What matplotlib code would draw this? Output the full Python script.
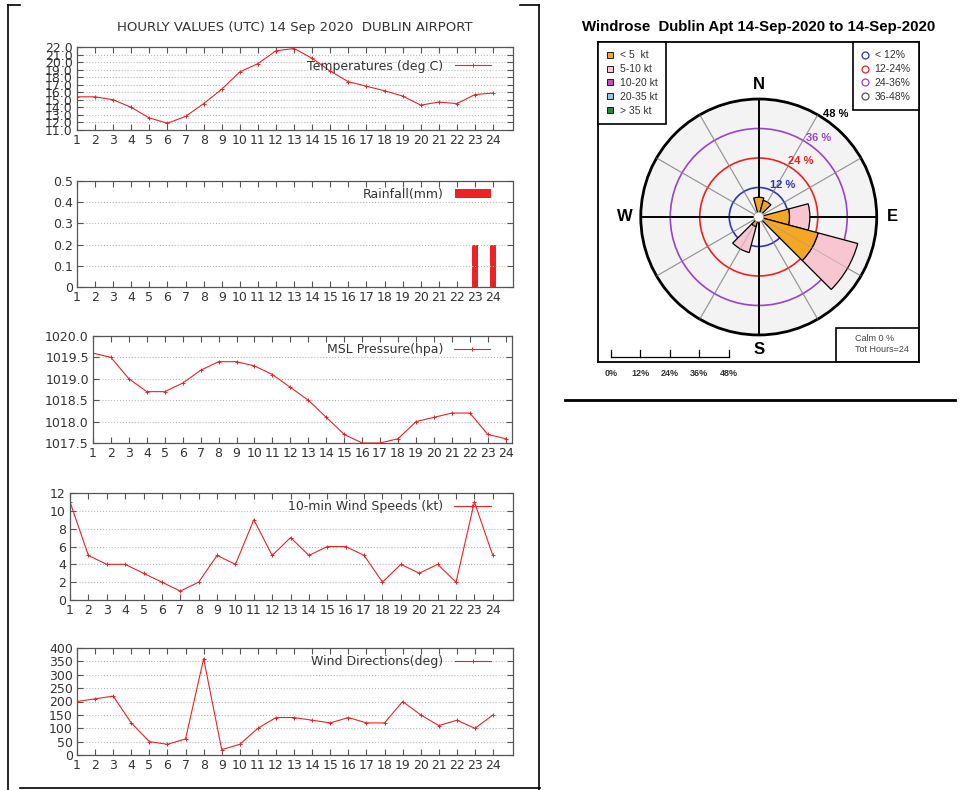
import matplotlib as mpl
mpl.use('Agg')

import numpy as np
import matplotlib.pyplot as plt
from matplotlib.lines import Line2D
from matplotlib.patches import Wedge, Circle, Rectangle

W, H = 962, 790

hours = list(range(1, 25))
temperature = [15.4, 15.4, 15.0, 14.0, 12.6, 11.9, 12.8, 14.5, 16.4, 18.7, 19.8, 21.5,
               21.8, 20.5, 18.8, 17.4, 16.8, 16.2, 15.5, 14.3, 14.7, 14.5, 15.7, 15.9]
rainfall = [0.0] * 22 + [0.2, 0.2]
pressure = [1019.6, 1019.5, 1019.0, 1018.7, 1018.7, 1018.9, 1019.2, 1019.4, 1019.4, 1019.3,
            1019.1, 1018.8, 1018.5, 1018.1, 1017.7, 1017.5, 1017.5, 1017.6, 1018.0, 1018.1,
            1018.2, 1018.2, 1017.7, 1017.6]
wind_speed = [11, 5, 4, 4, 3, 2, 1, 2, 5, 4, 9, 5, 7, 5, 6, 6, 5, 2, 4, 3, 4, 2, 11, 5]
wind_dir = [200, 210, 220, 120, 50, 40, 60, 360, 20, 40, 100, 140,
            140, 130, 120, 140, 120, 120, 200, 150, 110, 130, 100, 150]

temp_ticks = [22.0, 21.0, 20.0, 19.0, 18.0, 17.0, 16.0, 15.0, 14.0, 13.0, 12.0, 11.0]
rain_ticks = [0, 0.1, 0.2, 0.3, 0.4, 0.5]
rain_labels = ['0', '0.1', '0.2', '0.3', '0.4', '0.5']
pres_ticks = [1017.5, 1018.0, 1018.5, 1019.0, 1019.5, 1020.0]
speed_ticks = [0, 2, 4, 6, 8, 10, 12]
dir_ticks = [0, 50, 100, 150, 200, 250, 300, 350, 400]

# windrose sectors (30 deg bins), percent of hours per speed class
rose_dirs = [0, 30, 90, 120, 210]
rose_lt5 = [8.0, 7.0, 12.5, 25.0, 4.0]
rose_5to10 = [0.0, 0.0, 8.3, 16.7, 11.0]
rose_rings = [12, 24, 36, 48]
ring_colors = ['#3333bb', '#ee2222', '#9944cc', 'black']
speed_classes = ['< 5  kt', '5-10 kt', '10-20 kt', '20-35 kt', '> 35 kt']
class_colors = ['#f5a623', '#f7c6d0', '#c04fc0', '#9fc6dd', '#1f8a3a']
ring_legend = ['< 12%', '12-24%', '24-36%', '36-48%']
scale_vals = [0, 12, 24, 36, 48]
scale_labels = ['0%', '12%', '24%', '36%', '48%']

red = '#ee2222'


def px_box(x0, y0, x1, y1):
    return [x0 / W, 1 - y1 / H, (x1 - x0) / W, (y1 - y0) / H]


plt.rcParams.update({'font.family': 'DejaVu Sans'})
fig = plt.figure(figsize=(W / 100, H / 100), dpi=100)


def panel(box, values, label, ylim, yticks, ylabels, xmax=25.1, bar=False):
    ax = fig.add_axes(px_box(*box))
    if bar:
        ax.bar(hours, values, width=0.32, color=red, label=label)
    else:
        ax.plot(hours, values, color=red, lw=0.8, marker='+', ms=3.5, mew=0.7, label=label)
    ax.set_xlim(1, xmax)
    ax.set_ylim(*ylim)
    ax.set_xticks(hours)
    ax.set_yticks(yticks)
    ax.set_yticklabels(ylabels)
    ax.tick_params(direction='in', top=True, right=True, length=4, width=0.8,
                   colors='#555555', labelcolor='#333333', labelsize=9, pad=3)
    ax.grid(axis='y', linestyle=':', color='#bbbbbb', lw=0.8)
    for s in ax.spines.values():
        s.set_color('#555555')
        s.set_linewidth(0.9)
    leg = ax.legend(loc='upper right', frameon=False, markerfirst=False, handlelength=2.9,
                    fontsize=9, borderaxespad=0.15, handletextpad=0.9,
                    bbox_to_anchor=(0.965, 1.0))
    for t in leg.get_texts():
        t.set_color('#333333')
    return ax


fig.text(295 / W, 1 - 28 / H, 'HOURLY VALUES (UTC) 14 Sep 2020  DUBLIN AIRPORT',
         ha='center', va='center', fontsize=9.5, color='#333333')

ax_t = panel((77, 47, 513, 130), temperature, 'Temperatures (deg C)', (11, 22),
             temp_ticks, ['%.1f' % v for v in temp_ticks])
ax_t.get_legend().set_bbox_to_anchor((0.965, 0.93))
panel((77, 181, 513, 287), rainfall, 'Rainfall(mm)', (0, 0.5), rain_ticks, rain_labels, bar=True)
panel((93, 336, 512, 443), pressure, 'MSL Pressure(hpa)', (1017.5, 1020.0),
      pres_ticks, ['%.1f' % v for v in pres_ticks], xmax=24.35)
panel((70, 493, 513, 600), wind_speed, '10-min Wind Speeds (kt)', (0, 12),
      speed_ticks, [str(v) for v in speed_ticks])
panel((77, 648, 513, 755), wind_dir, 'Wind Directions(deg)', (0, 400),
      dir_ticks, [str(v) for v in dir_ticks])

# page frame lines
frame = [((8, 8), (5, 790)), ((8, 20), (5, 5)), ((539, 539), (5, 790)),
         ((520, 539), (5, 5)), ((20, 540), (788, 788))]
for xs, ys in frame:
    fig.add_artist(Line2D([x / W for x in xs], [1 - y / H for y in ys], color='black', lw=1.2))
fig.add_artist(Line2D([565 / W, 955 / W], [1 - 400 / H, 1 - 400 / H], color='black', lw=2))

# windrose
fig.text(759 / W, 1 - 27 / H, 'Windrose  Dublin Apt 14-Sep-2020 to 14-Sep-2020',
         ha='center', va='center', fontsize=10.8, fontweight='bold', family='Liberation Sans')

ax = fig.add_axes(px_box(598, 42, 919, 362))
ax.set_xlim(-65.4, 65.2)
ax.set_ylim(-59.0, 71.2)
ax.set_xticks([])
ax.set_yticks([])
for s in ax.spines.values():
    s.set_linewidth(1.3)

ax.add_patch(Circle((0, 0), 48, facecolor='#f3f3f3', edgecolor='none', zorder=0))
spokes = [b for b in range(0, 360, 30) if b % 90]
for b in spokes:
    ax.plot([0, 48 * np.sin(np.radians(b))], [0, 48 * np.cos(np.radians(b))],
            color='#999999', lw=0.8, zorder=1)
for r, c in zip(rose_rings, ring_colors):
    ax.add_patch(Circle((0, 0), r, fill=False, edgecolor=c, lw=2.0 if r == 48 else 1.2, zorder=2))
ax.plot([-48, 48], [0, 0], color='black', lw=1.4, zorder=2)
ax.plot([0, 0], [-48, 48], color='black', lw=1.4, zorder=2)

for d, a, b in zip(rose_dirs, rose_lt5, rose_5to10):
    t1, t2 = 90 - d - 15, 90 - d + 15
    if b > 0:
        ax.add_patch(Wedge((0, 0), a + b, t1, t2, width=b, facecolor=class_colors[1],
                           edgecolor='black', lw=0.9, zorder=3))
    ax.add_patch(Wedge((0, 0), a, t1, t2, facecolor=class_colors[0],
                       edgecolor='black', lw=0.9, zorder=3))
for b in spokes:
    ax.plot([0, 48 * np.sin(np.radians(b))], [0, 48 * np.cos(np.radians(b))],
            color='#999999', lw=0.6, alpha=0.6, zorder=4)
ax.add_patch(Circle((0, 0), 2.0, facecolor='white', edgecolor='#888888', lw=0.5, zorder=5))

ang = np.radians(37)
for r, c in zip(rose_rings, ring_colors):
    ax.text((r + 4.3) * np.sin(ang), (r + 4.3) * np.cos(ang), '%d %%' % r, color=c,
            ha='center', va='center', fontsize=8, fontweight='bold', family='Liberation Sans', zorder=6)
for lab, (x, y) in zip(['N', 'E', 'S', 'W'], [(0, 54), (54.5, 0), (0, -54), (-54.5, 0)]):
    ax.text(x, y, lab, ha='center', va='center', fontsize=12, fontweight='bold',
            family='Liberation Sans')

leg_kw = dict(borderaxespad=0, fancybox=False, edgecolor='black', framealpha=1,
              handlelength=0.8, handletextpad=0.5, labelspacing=0.37, borderpad=0.8,
              prop={'family': 'Liberation Sans', 'size': 7.5})
h1 = [Line2D([], [], marker='s', ls='none', ms=4, mfc=c, mec='black', mew=0.6)
      for c in class_colors]
leg1 = ax.legend(h1, speed_classes, loc='upper left', bbox_to_anchor=(0, 1), **leg_kw)
leg1.get_frame().set_linewidth(1.2)
ax.add_artist(leg1)
h2 = [Line2D([], [], marker='o', ls='none', ms=5, mfc='none', mec=c, mew=0.9)
      for c in ring_colors[:3] + ['#555555']]
leg2 = ax.legend(h2, ring_legend, loc='upper right', bbox_to_anchor=(1, 1), **leg_kw)
leg2.get_frame().set_linewidth(1.2)
for lg in (leg1, leg2):
    for t in lg.get_texts():
        t.set_color('#333333')

# calm box
ax.add_patch(Rectangle((0.741, 0), 0.259, 0.106, transform=ax.transAxes, fill=False,
                       edgecolor='black', lw=1.2, zorder=6))
ax.text(0.80, 0.055, 'Calm 0 %\nTot Hours=24', transform=ax.transAxes, ha='left', va='center',
        fontsize=6.5, color='#444444', family='Liberation Sans', linespacing=1.3)

sx0 = -60.2
ax.plot([sx0, sx0 + 48], [-57, -57], color='black', lw=0.9)
for v, lab in zip(scale_vals, scale_labels):
    ax.plot([sx0 + v, sx0 + v], [-57, -54], color='black', lw=0.9)
    ax.text(sx0 + v, -63.5, lab, ha='center', va='center', fontsize=6.5, fontweight='bold',
            family='Liberation Sans', color='#333333', clip_on=False)

fig.savefig('out.png', dpi=100)
